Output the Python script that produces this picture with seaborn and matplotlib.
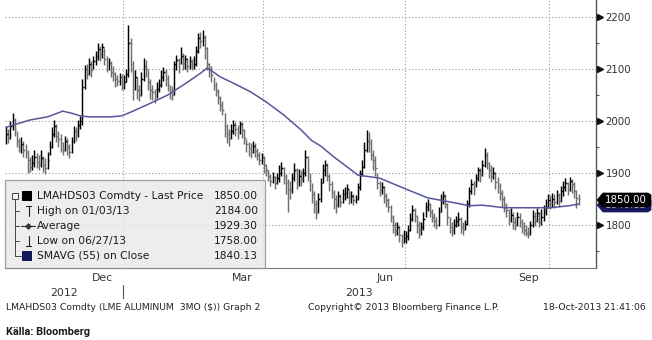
import numpy as np
import pandas as pd
import matplotlib
matplotlib.use("Agg")
import matplotlib.pyplot as plt
import matplotlib.transforms as mtransforms
from matplotlib.lines import Line2D
from matplotlib.patches import Rectangle, Polygon
import seaborn as sns

# ---- LME aluminium 3M daily bars (consecutive sessions, five per row) ----
closes = [
    1975, 1968, 1990, 2002, 1985,  1962, 1950, 1955, 1945, 1940,
    1925, 1912, 1920, 1930, 1922,  1918, 1928, 1915, 1910, 1925,
    1950, 1975, 1990, 1972, 1965,  1958, 1945, 1962, 1950, 1940,
    1962, 1980, 1975, 1992, 2000,  2065, 2100, 2092, 2110, 2098,
    2115, 2125, 2138, 2130, 2142,  2120, 2105, 2112, 2095, 2090,
    2080, 2078, 2085, 2072, 2075,  2090, 2150, 2110, 2070, 2085,
    2060, 2050, 2080, 2105, 2100,  2075, 2060, 2055, 2048, 2062,
    2070, 2085, 2095, 2080, 2070,  2055, 2050, 2110, 2118, 2100,
    2125, 2112, 2120, 2105, 2115,  2108, 2110, 2135, 2160, 2155,
    2162, 2140, 2110, 2100, 2088,  2070, 2058, 2045, 2030, 2022,
    1990, 1975, 1968, 1980, 1992,  1985, 1978, 1995, 1982, 1968,
    1955, 1948, 1940, 1952, 1942,  1935, 1925, 1930, 1915, 1905,
    1895, 1885, 1892, 1880, 1890,  1900, 1910, 1895, 1880, 1870,
    1868, 1890, 1905, 1885, 1895,  1888, 1900, 1930, 1905, 1885,
    1860, 1840, 1825, 1850, 1880,  1905, 1915, 1895, 1878, 1862,
    1850, 1838, 1855, 1845, 1860,  1862, 1870, 1852, 1855, 1848,
    1850, 1872, 1898, 1912, 1945,  1962, 1958, 1935, 1925, 1910,
    1880, 1868, 1872, 1855, 1848,  1835, 1815, 1800, 1788, 1795,
    1780, 1768, 1775, 1778, 1790,  1812, 1828, 1818, 1800, 1790,
    1795, 1812, 1835, 1840, 1825,  1815, 1808, 1800, 1825, 1848,
    1855, 1840, 1815, 1795, 1790,  1800, 1808, 1812, 1795, 1790,
    1802, 1840, 1865, 1878, 1870,  1890, 1905, 1898, 1915, 1935,
    1920, 1905, 1895, 1900, 1882,  1875, 1862, 1850, 1835, 1828,
    1812, 1820, 1805, 1800, 1815,  1805, 1795, 1790, 1785, 1782,
    1800, 1818, 1810, 1822, 1805,  1815, 1825, 1835, 1848, 1842,
    1850, 1845, 1858, 1848, 1865,  1872, 1880, 1868, 1885, 1878,
    1865, 1852, 1850,
]
highs = [
    1990, 1985, 2000, 2015, 2005,  1980, 1968, 1970, 1962, 1955,
    1945, 1930, 1935, 1945, 1938,  1935, 1945, 1932, 1928, 1940,
    1962, 1988, 2002, 1995, 1980,  1975, 1960, 1972, 1968, 1955,
    1970, 1990, 1988, 2002, 2010,  2080, 2108, 2110, 2122, 2115,
    2125, 2135, 2150, 2145, 2150,  2140, 2125, 2122, 2115, 2105,
    2095, 2088, 2092, 2090, 2088,  2100, 2184, 2160, 2115, 2098,
    2085, 2070, 2095, 2122, 2118,  2098, 2080, 2070, 2062, 2075,
    2080, 2098, 2104, 2100, 2088,  2070, 2068, 2115, 2128, 2122,
    2142, 2130, 2128, 2122, 2125,  2120, 2125, 2145, 2170, 2172,
    2176, 2165, 2142, 2112, 2105,  2085, 2075, 2062, 2048, 2038,
    2015, 1995, 1985, 1995, 2002,  1998, 1992, 2000, 1998, 1985,
    1965, 1960, 1958, 1962, 1958,  1948, 1940, 1938, 1932, 1918,
    1905, 1898, 1902, 1895, 1900,  1915, 1922, 1912, 1898, 1888,
    1885, 1900, 1920, 1910, 1908,  1905, 1910, 1945, 1932, 1900,
    1880, 1865, 1848, 1862, 1890,  1918, 1925, 1920, 1898, 1885,
    1868, 1858, 1865, 1860, 1870,  1872, 1878, 1868, 1865, 1860,
    1858, 1880, 1905, 1925, 1960,  1982, 1978, 1965, 1945, 1932,
    1900, 1885, 1882, 1875, 1862,  1852, 1838, 1820, 1805, 1805,
    1798, 1782, 1790, 1788, 1800,  1822, 1838, 1832, 1820, 1808,
    1805, 1825, 1845, 1850, 1842,  1830, 1822, 1815, 1835, 1860,
    1865, 1860, 1842, 1815, 1805,  1812, 1818, 1825, 1815, 1805,
    1810, 1848, 1872, 1888, 1885,  1898, 1912, 1910, 1925, 1948,
    1940, 1922, 1915, 1912, 1902,  1892, 1880, 1868, 1855, 1842,
    1830, 1832, 1825, 1815, 1825,  1822, 1812, 1805, 1800, 1795,
    1808, 1828, 1825, 1832, 1825,  1830, 1838, 1850, 1860, 1858,
    1862, 1860, 1868, 1862, 1875,  1885, 1890, 1882, 1892, 1888,
    1882, 1868, 1860,
]
lows = [
    1955, 1958, 1966, 1982, 1972,  1950, 1940, 1938, 1930, 1928,
    1900, 1902, 1905, 1912, 1910,  1905, 1912, 1902, 1898, 1908,
    1935, 1948, 1970, 1960, 1950,  1940, 1935, 1942, 1935, 1928,
    1938, 1958, 1962, 1970, 1985,  1992, 2062, 2080, 2088, 2085,
    2100, 2108, 2118, 2115, 2122,  2108, 2095, 2098, 2085, 2078,
    2065, 2068, 2070, 2060, 2062,  2075, 2085, 2095, 2040, 2060,
    2042, 2038, 2048, 2078, 2085,  2060, 2042, 2040, 2035, 2045,
    2055, 2065, 2078, 2068, 2058,  2042, 2040, 2050, 2098, 2092,
    2110, 2098, 2100, 2095, 2100,  2098, 2100, 2105, 2130, 2140,
    2145, 2120, 2098, 2085, 2075,  2060, 2048, 2032, 2020, 2012,
    1970, 1958, 1952, 1965, 1975,  1972, 1965, 1975, 1968, 1955,
    1940, 1932, 1928, 1938, 1930,  1925, 1915, 1918, 1900, 1895,
    1885, 1875, 1880, 1870, 1878,  1882, 1895, 1878, 1860, 1825,
    1850, 1862, 1885, 1870, 1875,  1875, 1882, 1895, 1885, 1865,
    1842, 1822, 1812, 1822, 1845,  1880, 1895, 1885, 1865, 1852,
    1830, 1822, 1835, 1835, 1842,  1848, 1852, 1840, 1842, 1838,
    1842, 1848, 1868, 1895, 1910,  1940, 1940, 1925, 1905, 1895,
    1870, 1855, 1860, 1842, 1835,  1825, 1805, 1785, 1778, 1780,
    1768, 1758, 1765, 1765, 1770,  1788, 1808, 1805, 1785, 1775,
    1780, 1790, 1815, 1826, 1815,  1805, 1795, 1792, 1798, 1825,
    1840, 1832, 1800, 1785, 1778,  1782, 1795, 1798, 1785, 1780,
    1790, 1800, 1835, 1860, 1858,  1872, 1885, 1882, 1895, 1912,
    1908, 1890, 1882, 1888, 1870,  1862, 1848, 1835, 1825, 1815,
    1800, 1805, 1792, 1790, 1798,  1795, 1785, 1780, 1778, 1775,
    1780, 1795, 1798, 1805, 1795,  1800, 1808, 1820, 1832, 1830,
    1835, 1832, 1840, 1835, 1845,  1855, 1865, 1858, 1865, 1862,
    1852, 1832, 1838,
]
first_session = "2012-10-17"

# 55-day simple moving average of the close
sma_dates = [
    "2012-10-17", "2012-11-01", "2012-11-13", "2012-11-22", "2012-11-28",
    "2012-12-04", "2012-12-10", "2012-12-24", "2012-12-31", "2013-01-04",
    "2013-01-17", "2013-01-29", "2013-02-07", "2013-02-19", "2013-02-22",
    "2013-02-27", "2013-03-04", "2013-03-12", "2013-03-22", "2013-04-02",
    "2013-04-12", "2013-04-24", "2013-05-01", "2013-05-07", "2013-05-15",
    "2013-05-23", "2013-05-30", "2013-06-13", "2013-07-01", "2013-07-15",
    "2013-08-01", "2013-08-09", "2013-08-19", "2013-09-02", "2013-09-18",
    "2013-10-01", "2013-10-14", "2013-10-18",
]
sma_values = [
    1988, 2002, 2008, 2019, 2015,
    2010, 2008, 2008, 2010, 2017,
    2034, 2050, 2069, 2092, 2102,
    2094, 2085, 2073, 2056, 2037,
    2012, 1983, 1962, 1952, 1931,
    1912, 1896, 1890, 1869, 1852,
    1842, 1837, 1838, 1833, 1833,
    1833, 1837, 1840.13,
]

y_ticks = [1800, 1900, 2000, 2100, 2200]
y_minor = [1750, 1850, 1950, 2050, 2150]
month_labels = {12: "Dec", 3: "Mar", 6: "Jun", 9: "Sep"}
year_labels = ["2012", "2013"]

legend_rows = [
    ("LMAHDS03 Comdty - Last Price", "1850.00"),
    ("High on 01/03/13", "2184.00"),
    ("Average", "1929.30"),
    ("Low on 06/27/13", "1758.00"),
    ("SMAVG (55) on Close", "1840.13"),
]
last_tag = "1850.00"
sma_tag = "1840.13"

# ---------------------------------------------------------------------------
sns.set_theme(style="white")
plt.rcParams["font.family"] = ["DejaVu Sans"]

W, H = 652, 340
fig = plt.figure(figsize=(W / 100, H / 100), dpi=100)
fig.patch.set_facecolor("white")
ax = fig.add_axes([5 / W, 72 / H, 591 / W, 268 / H])
ax.set_facecolor("white")


def P(x, y):
    """pixel position (from top-left) -> figure fraction"""
    return x / W, 1 - y / H


sessions = pd.bdate_range(first_session, periods=len(closes))
idx = np.arange(len(closes))
df = pd.DataFrame({"date": sessions, "i": idx, "close": closes,
                   "high": highs, "low": lows})
prev = df["close"].shift(1).fillna(df["close"].iloc[0])
bar_col = np.where(df["close"] >= prev, "#000000", "#6f6f6f")

ax.vlines(df["i"], df["low"], df["high"], colors=bar_col, lw=1.05, zorder=3)
ax.hlines(df["close"], df["i"], df["i"] + 0.8, colors=bar_col, lw=1.0, zorder=3)

sma_x = np.searchsorted(sessions.values, pd.to_datetime(sma_dates).values)
sns.lineplot(x=sma_x, y=sma_values, ax=ax, color="#55579b", lw=1.1,
             zorder=4, legend=False)

ax.set_xlim(-0.46, 270.0)
ax.set_ylim(1717, 2233)

# grid
grid_kw = dict(color="#9a9a9a", lw=0.8, ls=(0, (1, 2)), zorder=1)
for y in y_ticks:
    ax.axhline(y, **grid_kw)

month_starts = pd.date_range("2012-11-01", "2013-10-01", freq="MS")
ms_pos = {m: int(np.searchsorted(sessions.values, np.datetime64(m))) for m in month_starts}
for m, p in ms_pos.items():
    if m.month in (1, 4, 7, 10):
        ax.axvline(p - 0.5, **grid_kw)

# spines
for s in ("top", "left"):
    ax.spines[s].set_visible(False)
ax.spines["right"].set_color("#555555")
ax.spines["right"].set_linewidth(1.0)
ax.spines["bottom"].set_color("#7a7a7a")
ax.spines["bottom"].set_linewidth(0.8)

# y axis on the right
ax.yaxis.tick_right()
ax.set_yticks(y_ticks)
ax.set_yticklabels([str(v) for v in y_ticks])
ax.set_yticks(y_minor, minor=True)
ax.tick_params(axis="y", which="major", length=0, pad=7, labelsize=7.4,
               labelcolor="#333333")
ax.tick_params(axis="y", which="minor", length=2.5, width=0.8, color="#555555")
tri_tr = mtransforms.blended_transform_factory(ax.transAxes, ax.transData) + \
    mtransforms.ScaledTranslation(3.5 / 100, 0, fig.dpi_scale_trans)
ax.plot([1.0] * len(y_ticks), y_ticks, ls="", marker=">", ms=4.2,
        color="#111111", transform=tri_tr, clip_on=False, zorder=5)

# x axis: month ticks
tick_pos = [p - 0.5 for m, p in ms_pos.items() if m.month not in (12, 3)]
ax.set_xticks(tick_pos)
ax.set_xticklabels([""] * len(tick_pos))
ax.tick_params(axis="x", which="major", length=3, width=0.8, color="#666666",
               direction="out")

lab_tr = mtransforms.blended_transform_factory(ax.transData, fig.transFigure)
for m, p in ms_pos.items():
    if m.month in month_labels:
        nxt = ms_pos.get(m + pd.offsets.MonthBegin(1), len(closes) + 8)
        ax.text((p + nxt) / 2 + 0.5, P(0, 278)[1], month_labels[m.month],
                transform=lab_tr, ha="center", va="center", fontsize=7.8,
                color="#333333")
jan = ms_pos[pd.Timestamp("2013-01-01")] - 0.5
ax.text((-0.46 + jan) / 2, P(0, 293)[1], year_labels[0], transform=lab_tr,
        ha="center", va="center", fontsize=7.8, color="#333333")
ax.text((jan + 270.0) / 2, P(0, 293)[1], year_labels[1], transform=lab_tr,
        ha="center", va="center", fontsize=7.8, color="#333333")
ax.add_line(Line2D([jan, jan], [P(0, 285)[1], P(0, 298)[1]], transform=lab_tr,
                   color="#555555", lw=0.8, clip_on=False))

# ---- legend box ----
fig.add_artist(Rectangle(P(5, 268), 260 / W, 88 / H, transform=fig.transFigure,
                         facecolor="#e9e9e9", alpha=0.82, edgecolor="#8c8c8c",
                         lw=0.9, zorder=6))
row_y = [196, 211, 226, 241, 256]
for (name, val), yy in zip(legend_rows, row_y):
    fig.text(*P(37, yy), name, ha="left", va="center", fontsize=7.7,
             color="#1a1a1a", zorder=8)
    fig.text(*P(258, yy), val, ha="right", va="center", fontsize=7.7,
             color="#1a1a1a", zorder=8)


def fline(xs, ys, **kw):
    fx = [x / W for x in xs]
    fy = [1 - y / H for y in ys]
    fig.add_artist(Line2D(fx, fy, transform=fig.transFigure, zorder=8, **kw))


# tree connector
fline([15, 15], [199, 256], color="#444444", lw=0.7)
for yy in row_y[1:4]:
    fline([15, 19], [yy, yy], color="#444444", lw=0.7)
fline([15, 21], [256, 256], color="#444444", lw=0.7)
# collapse box
fig.add_artist(Rectangle(P(12, 199), 6 / W, 6 / H, transform=fig.transFigure,
                         facecolor="#f4f4f4", edgecolor="#444444", lw=0.7, zorder=9))
fline([13.5, 16.5], [196, 196], color="#222222", lw=0.7)
# swatches
fig.add_artist(Rectangle(P(22, 201), 10 / W, 10 / H, transform=fig.transFigure,
                         facecolor="#000000", edgecolor="none", zorder=9))
fig.add_artist(Rectangle(P(22, 261), 10 / W, 10 / H, transform=fig.transFigure,
                         facecolor="#15155a", edgecolor="none", zorder=9))
# high marker (T)
fline([26, 31], [206, 206], color="#222222", lw=0.8)
fline([28.5, 28.5], [206, 216], color="#222222", lw=0.8)
# average marker
fline([21, 35], [226, 226], color="#333333", lw=0.8)
fig.add_artist(Line2D([28 / W], [1 - 226 / H], transform=fig.transFigure,
                      marker="D", ms=2.6, color="#333333", zorder=9))
# low marker (inverted T)
fline([26, 31], [246, 246], color="#222222", lw=0.8)
fline([28.5, 28.5], [236, 246], color="#222222", lw=0.8)

# ---- last value tags on the price axis ----
def tag(yc, color, text, z):
    pts = [(597, yc), (603, yc - 7), (648, yc - 7), (651, yc - 5),
           (651, yc + 5), (648, yc + 7), (603, yc + 7)]
    fig.add_artist(Polygon([P(x, y) for x, y in pts], closed=True,
                           transform=fig.transFigure, facecolor=color,
                           edgecolor=color, lw=0.5, zorder=z))
    fig.text(*P(626, yc), text, ha="center", va="center", fontsize=7.4,
             color="white", zorder=z + 0.5)


tag(205, "#17175e", sma_tag, 10)
tag(200, "#000000", last_tag, 12)

# ---- footer ----
fig.text(*P(6, 308), "LMAHDS03 Comdty (LME ALUMINUM  3MO ($)) Graph 2",
         ha="left", va="center", fontsize=6.7, color="#222222")
fig.text(*P(308, 308), "Copyright\u00a9 2013 Bloomberg Finance L.P.",
         ha="left", va="center", fontsize=6.7, color="#222222")
fig.text(*P(646, 308), "18-Oct-2013 21:41:06", ha="right", va="center",
         fontsize=6.7, color="#222222")
fig.text(*P(6, 332), "K\u00e4lla: Bloomberg", ha="left", va="center",
         fontsize=7.8, color="#1a1a1a", family=["Roboto", "DejaVu Sans"],
         fontweight="bold")

fig.savefig("out.png", dpi=100, facecolor="white")
